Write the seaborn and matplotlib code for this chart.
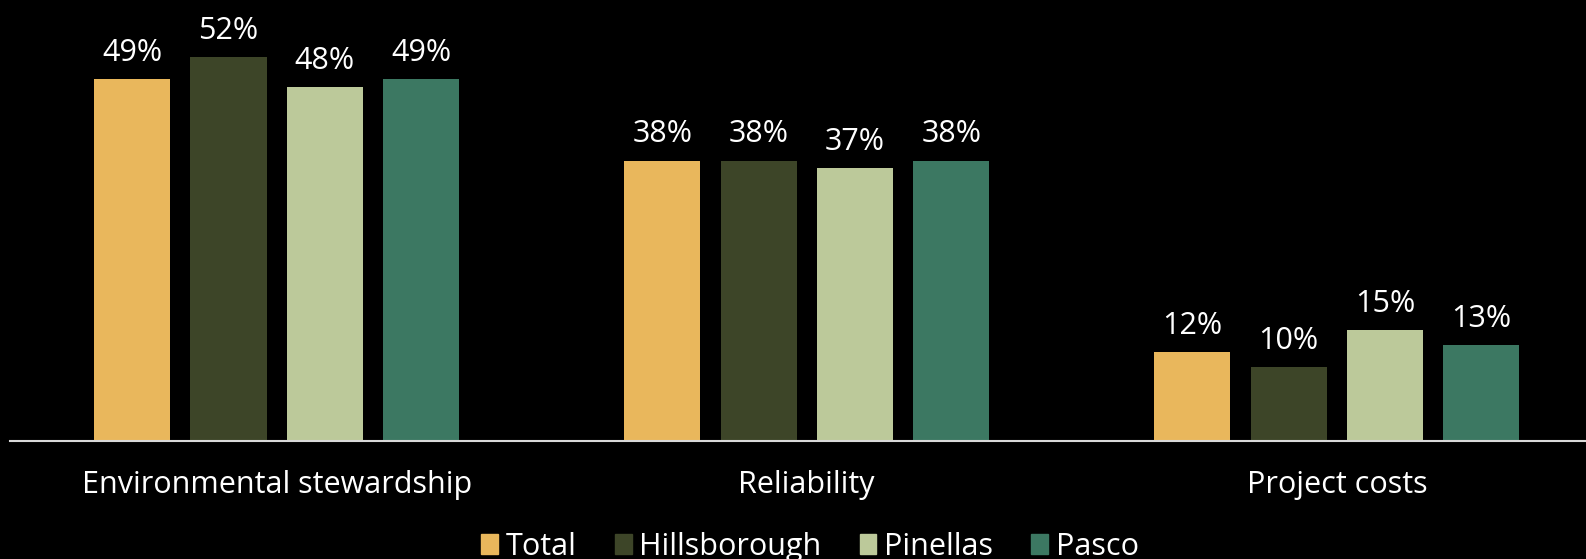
import matplotlib
matplotlib.use("Agg")
import matplotlib.pyplot as plt
import seaborn as sns
import pandas as pd

categories = ["Environmental stewardship", "Reliability", "Project costs"]
regions = ["Total", "Hillsborough", "Pinellas", "Pasco"]
total = [49, 38, 12]
hillsborough = [52, 38, 10]
pinellas = [48, 37, 15]
pasco = [49, 38, 13]
colors = ["#E9B75C", "#3D4528", "#BCC99A", "#3C7862"]

rows = []
for reg, vals in zip(regions, [total, hillsborough, pinellas, pasco]):
    for cat, v in zip(categories, vals):
        rows.append({"category": cat, "region": reg, "value": v})
df = pd.DataFrame(rows)

sns.set_style("white")
plt.rcParams["font.family"] = ["Open Sans", "DejaVu Sans"]
plt.rcParams["text.color"] = "white"

fig = plt.figure(figsize=(15.86, 5.59), dpi=100, facecolor="black")
ax = fig.add_axes([10 / 1586, 118 / 559, 1576 / 1586, 441 / 559])
ax.set_facecolor("black")

sns.barplot(data=df, x="category", y="value", hue="region", hue_order=regions,
            order=categories, palette=colors, width=0.727, gap=0.21,
            saturation=1, linewidth=0, edgecolor="none", legend=False, ax=ax)

for container in ax.containers:
    ax.bar_label(container, labels=[f"{v:g}%" for v in container.datavalues],
                 padding=8, fontsize=22, color="white")

ax.set_xlim(-0.503, 2.47)
ax.set_ylim(0, 59.75)
ax.set_xlabel("")
ax.set_ylabel("")
ax.set_yticks([])
ax.tick_params(axis="x", length=0, labelsize=22, labelcolor="white", pad=21)
for side in ["top", "right", "left"]:
    ax.spines[side].set_visible(False)
ax.spines["bottom"].set_color("#D9D9D9")
ax.spines["bottom"].set_linewidth(1.5)

handles = [plt.Rectangle((0, 0), 1, 1, color=c) for c in colors]
fig.legend(handles, regions, loc="lower center", ncol=4,
           bbox_to_anchor=(810 / 1586, -0.054), frameon=False, fontsize=22,
           handlelength=0.55, handleheight=0.6, handletextpad=0.25,
           columnspacing=1.25, labelcolor="white")

fig.savefig("out.png", dpi=100, facecolor="black")
